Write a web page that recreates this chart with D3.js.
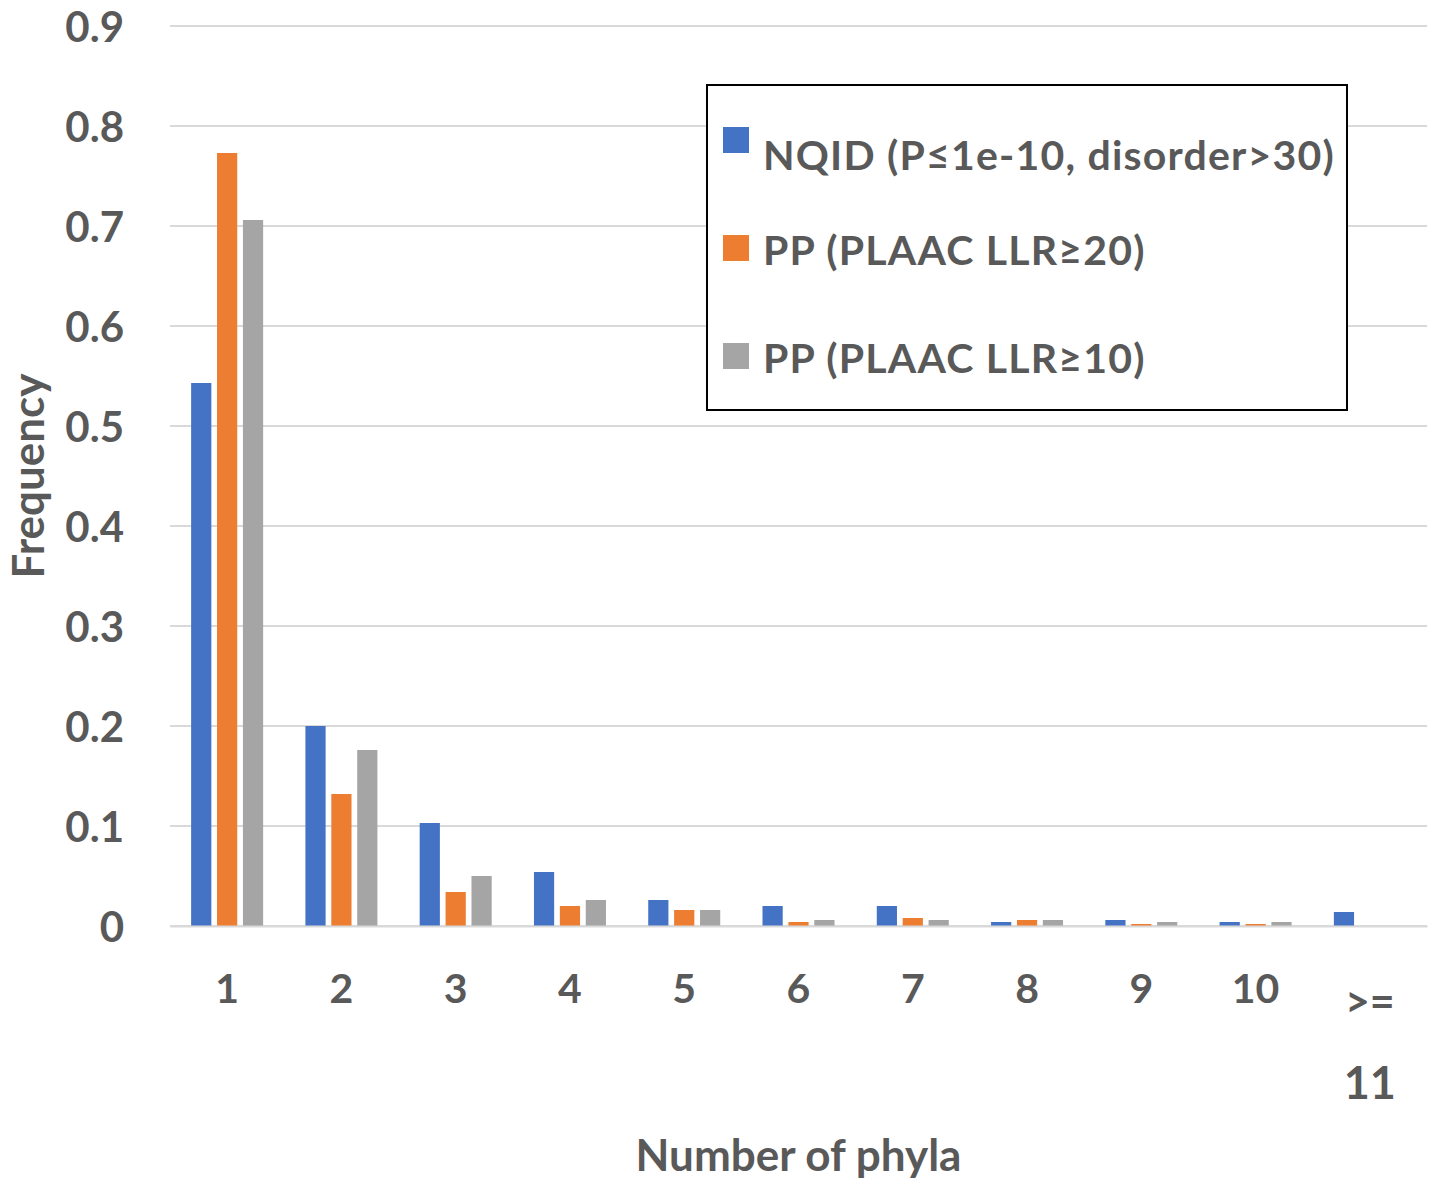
<!DOCTYPE html>
<html>
<head>
<meta charset="utf-8">
<script src="https://cdn.jsdelivr.net/npm/d3@7"></script>
<style>
  body { margin: 0; background: #fff; }
  svg { display: block; font-family: Lato, "Open Sans", sans-serif; font-weight: bold; }
</style>
</head>
<body>
<svg id="chart" width="1434" height="1182"></svg>
<script>
// data
const categories = ["1", "2", "3", "4", "5", "6", "7", "8", "9", "10", ">= 11"];
const seriesNames = ["NQID (P≤1e-10, disorder>30)", "PP (PLAAC LLR≥20)", "PP (PLAAC LLR≥10)"];
const nqid  = [0.543, 0.200, 0.103, 0.054, 0.026, 0.020, 0.020, 0.004, 0.006, 0.004, 0.014];
const pp20  = [0.773, 0.132, 0.034, 0.020, 0.016, 0.004, 0.008, 0.006, 0.002, 0.002, 0];
const pp10  = [0.706, 0.176, 0.050, 0.026, 0.016, 0.006, 0.006, 0.006, 0.004, 0.004, 0];
const yTicks = [0, 0.1, 0.2, 0.3, 0.4, 0.5, 0.6, 0.7, 0.8, 0.9];
const colors = ["#4472C4", "#ED7D31", "#A5A5A5"];

const svg = d3.select("#chart");
const textCol = "#595959";
const plotL = 170, plotR = 1427, plotT = 26, plotB = 926;

const x0 = d3.scaleBand().domain(categories).range([plotL, plotR]);
const x1 = d3.scaleBand().domain(seriesNames).range([0, 72]).paddingInner(0.22);
const y = d3.scaleLinear().domain([0, 0.9]).range([plotB, plotT]);
const color = d3.scaleOrdinal().domain(seriesNames).range(colors);

const rows = categories.map((c, i) => ({
  cat: c,
  vals: [nqid[i], pp20[i], pp10[i]].map((v, j) => ({key: seriesNames[j], v: v}))
}));

// gridlines
svg.append("g").selectAll("line")
  .data(yTicks)
  .join("line")
  .attr("x1", plotL).attr("x2", plotR)
  .attr("y1", d => y(d)).attr("y2", d => y(d))
  .attr("stroke", "#d9d9d9")
  .attr("stroke-width", 2);

// y axis labels
const yAxis = svg.append("g")
  .attr("transform", "translate(" + plotL + ",0)")
  .call(d3.axisLeft(y).tickValues(yTicks).tickSize(0).tickPadding(46)
    .tickFormat(d => d === 0 ? "0" : d.toFixed(1)));
yAxis.select(".domain").remove();
yAxis.selectAll("text")
  .attr("fill", textCol)
  .style("font-size", "42px")
  .style("font-family", "Lato, 'Open Sans', sans-serif")
  .style("font-weight", "bold")
  .attr("dy", "0.36em");

// bars
const offset = (x0.bandwidth() - 72) / 2;
svg.append("g").selectAll("g")
  .data(rows)
  .join("g")
  .attr("transform", d => "translate(" + (x0(d.cat) + offset) + ",0)")
  .selectAll("rect")
  .data(d => d.vals)
  .join("rect")
  .attr("x", d => x1(d.key))
  .attr("width", x1.bandwidth())
  .attr("y", d => y(d.v))
  .attr("height", d => y(0) - y(d.v))
  .attr("fill", d => color(d.key));

// x axis
const xAxis = svg.append("g")
  .attr("transform", "translate(0," + plotB + ")")
  .call(d3.axisBottom(x0).tickSize(0).tickPadding(48));
xAxis.select(".domain")
  .attr("stroke", "#d9d9d9")
  .attr("stroke-width", 2);
xAxis.selectAll("text")
  .attr("fill", textCol)
  .style("font-size", "41px")
  .style("font-family", "Lato, 'Open Sans', sans-serif")
  .style("font-weight", "bold")
  .attr("dy", "0.71em")
  .each(function(d) {
    if (d.indexOf(" ") < 0) return;
    const t = d3.select(this), parts = d.split(" ");
    t.text(null);
    t.append("tspan").attr("x", 0).attr("dy", "1.0em").style("font-size", "43px").text(parts[0]);
    t.append("tspan").attr("x", 0).attr("dy", "1.82em").style("font-size", "45px").text(parts[1]);
  });

// axis titles
svg.append("text")
  .attr("x", (plotL + plotR) / 2)
  .attr("y", 1171)
  .attr("text-anchor", "middle")
  .attr("fill", textCol)
  .style("font-size", "44px")
  .text("Number of phyla");

svg.append("text")
  .attr("transform", "translate(44,476) rotate(-90)")
  .attr("text-anchor", "middle")
  .attr("fill", textCol)
  .style("font-size", "44px")
  .text("Frequency");

// legend
const legend = svg.append("g").attr("transform", "translate(707,85)");
legend.append("rect")
  .attr("width", 640).attr("height", 325)
  .attr("fill", "#fff")
  .attr("stroke", "#000")
  .attr("stroke-width", 2);

const legendSwatchY = [42, 150, 258];
const legendTextY = [85, 180, 288];
const item = legend.selectAll("g.item")
  .data(seriesNames)
  .join("g")
  .attr("class", "item");
item.append("rect")
  .attr("x", 16)
  .attr("y", (d, i) => legendSwatchY[i])
  .attr("width", 26).attr("height", 26)
  .attr("fill", d => color(d));
item.append("text")
  .attr("x", 56)
  .attr("y", (d, i) => legendTextY[i])
  .attr("fill", textCol)
  .style("font-size", "41px")
  .style("letter-spacing", "1.2px")
  .text(d => d);
</script>
</body>
</html>
